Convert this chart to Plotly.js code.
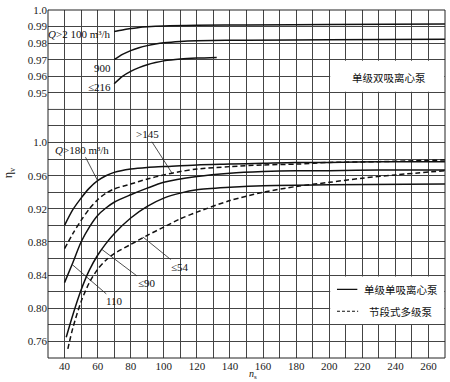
<!DOCTYPE html>
<html><head><meta charset="utf-8">
<script src="https://cdn.plot.ly/plotly-3.0.1.min.js"></script>
<style>html,body{margin:0;padding:0;background:#fff}</style>
</head><body><div id="chart" style="width:450px;height:382px"></div>
<script>
// ---- Top panel: 单级双吸离心泵 ----
const nsQ2100 = [70,75,80,85,90,100,120,150,200,270];
const etaQ2100 = [0.9870,0.9880,0.9888,0.9895,0.9899,0.9904,0.9908,0.9910,0.9912,0.9915];
const nsQ900 = [70,75,80,85,90,95,100,110,120,150,200,270];
const etaQ900 = [0.9700,0.9732,0.9755,0.9772,0.9785,0.9795,0.9802,0.9810,0.9814,0.9818,0.9820,0.9823];
const nsQ216 = [70,75,80,85,90,95,100,110,120,132];
const etaQ216 = [0.9555,0.9600,0.9630,0.9652,0.9670,0.9683,0.9693,0.9704,0.9710,0.9714];

// ---- Bottom panel ----
const nsQ180 = [40,45,50,55,60,65,70,80,90,100,120,140,160,180,200,230,270];
const etaQ180 = [0.900,0.919,0.933,0.945,0.954,0.960,0.964,0.968,0.970,0.971,0.973,0.974,0.975,0.976,0.976,0.977,0.977];
const nsQ145 = [40,45,50,55,60,65,70,80,90,100,110,120,140,160,180,200,230,270];
const etaQ145 = [0.872,0.890,0.906,0.920,0.931,0.939,0.944,0.950,0.956,0.961,0.965,0.968,0.971,0.973,0.974,0.976,0.977,0.979];
const nsQ110 = [40,45,50,55,60,65,70,80,90,100,120,140,160,180,200,230,270];
const etaQ110 = [0.831,0.855,0.880,0.898,0.912,0.921,0.928,0.937,0.945,0.952,0.959,0.963,0.965,0.966,0.966,0.967,0.967];
const nsQ90 = [41,45,50,55,60,65,70,80,90,100,110,120,140,160,200,270];
const etaQ90 = [0.765,0.792,0.822,0.846,0.864,0.878,0.890,0.909,0.923,0.933,0.939,0.943,0.946,0.948,0.949,0.950];
const nsQ54 = [42,45,50,55,60,65,70,80,90,100,110,120,140,160,180,200,220,240,270];
const etaQ54 = [0.751,0.776,0.808,0.831,0.847,0.858,0.866,0.877,0.888,0.898,0.908,0.916,0.930,0.940,0.947,0.952,0.957,0.961,0.966];

// ---- ticks ----
const xTickVals = [40,60,80,100,120,140,160,180,200,220,240,260];
const xTickText = ['40','60','80','100','120','140','160','180','200','220','240','260'];
const yTickVals = [0.76,0.80,0.84,0.88,0.92,0.96,1.00];
const yTickText = ['0.76','0.80','0.84','0.88','0.92','0.96','1.0'];
const y2TickVals = [0.95,0.96,0.97,0.98,0.99,1.00];
const y2TickText = ['0.95','0.96','0.97','0.98','0.99','1.0'];

const serif = 'Liberation Serif, Times New Roman, serif';
const cjk = 'Noto Sans CJK SC, sans-serif';
const ink = '#111';
const solid = {color: ink, width: 1.5, shape: 'spline', smoothing: 0.8};
const dashed = {color: ink, width: 1.5, shape: 'spline', smoothing: 0.8, dash: '5px,3px'};

const traces = [
  {x: nsQ2100, y: etaQ2100, xaxis: 'x', yaxis: 'y2', mode: 'lines', line: solid},
  {x: nsQ900, y: etaQ900, xaxis: 'x', yaxis: 'y2', mode: 'lines', line: solid},
  {x: nsQ216, y: etaQ216, xaxis: 'x', yaxis: 'y2', mode: 'lines', line: solid},
  {x: nsQ180, y: etaQ180, xaxis: 'x', yaxis: 'y', mode: 'lines', line: solid},
  {x: nsQ145, y: etaQ145, xaxis: 'x', yaxis: 'y', mode: 'lines', line: dashed},
  {x: nsQ110, y: etaQ110, xaxis: 'x', yaxis: 'y', mode: 'lines', line: solid},
  {x: nsQ90, y: etaQ90, xaxis: 'x', yaxis: 'y', mode: 'lines', line: solid},
  {x: nsQ54, y: etaQ54, xaxis: 'x', yaxis: 'y', mode: 'lines', line: dashed}
];

const grid = '#444';
const tickFont = {family: serif, size: 11, color: '#1a1a1a'};
const split = 15/21;

function lbl(text, x, y, ax, ay) {
  return {text: text, x: x, y: y, xref: 'x', yref: 'y', showarrow: true, arrowhead: 0,
    arrowwidth: 0.8, arrowcolor: '#222', ax: ax, ay: ay, standoff: 0,
    font: {family: serif, size: 11, color: ink}};
}
function topLbl(text, x, y) {
  return {text: text, x: x, y: y, xref: 'x', yref: 'y2', xanchor: 'right', yanchor: 'middle',
    showarrow: false, font: {family: serif, size: 11, color: ink}};
}

const layout = {
  width: 450, height: 382,
  margin: {l: 48, r: 5, t: 10, b: 24},
  paper_bgcolor: '#fff', plot_bgcolor: '#fff',
  showlegend: false,
  xaxis: {range: [30, 270], tickmode: 'array', tickvals: xTickVals, ticktext: xTickText, showgrid: true,
    gridcolor: grid, gridwidth: 1, showline: false, zeroline: false, ticks: '',
    minor: {tick0: 30, dtick: 10, showgrid: true, gridcolor: grid, gridwidth: 1, ticks: ''},
    tickfont: tickFont, anchor: 'y'},
  yaxis: {domain: [0, split], range: [0.74, 1.04], tickmode: 'array', tickvals: yTickVals, ticktext: yTickText,
    showgrid: true, gridcolor: grid, gridwidth: 1, showline: false, zeroline: false, ticks: '',
    minor: {tick0: 0.74, dtick: 0.02, showgrid: true, gridcolor: grid, gridwidth: 1, ticks: ''},
    tickfont: tickFont, anchor: 'x'},
  yaxis2: {domain: [split, 1], range: [0.94, 1.0], tickmode: 'array', tickvals: y2TickVals, ticktext: y2TickText,
    showgrid: true, gridcolor: grid, gridwidth: 1, showline: false, zeroline: false, ticks: '',
    minor: {tick0: 0.94, dtick: 0.01, showgrid: true, gridcolor: grid, gridwidth: 1, ticks: ''},
    tickfont: tickFont, anchor: 'x'},
  shapes: [
    {type: 'rect', xref: 'x', yref: 'y2', x0: 200.6, x1: 269.6, y0: 0.9506, y1: 0.9694,
      fillcolor: '#fff', line: {width: 0}, layer: 'above'},
    {type: 'rect', xref: 'x', yref: 'y', x0: 200.6, x1: 269.6, y0: 0.781, y1: 0.8385,
      fillcolor: '#fff', line: {width: 0}, layer: 'above'},
    {type: 'line', xref: 'x', yref: 'y', x0: 204.7, x1: 217, y0: 0.8228, y1: 0.8228,
      line: {color: ink, width: 1.2}, layer: 'above'},
    {type: 'line', xref: 'x', yref: 'y', x0: 204.7, x1: 217.5, y0: 0.7964, y1: 0.7964,
      line: {color: ink, width: 1.2, dash: '3px,2px'}, layer: 'above'},
    {type: 'line', xref: 'paper', yref: 'paper', x0: 0, x1: 1, y0: split, y1: split,
      line: {color: grid, width: 1}, layer: 'below'},
    {type: 'rect', xref: 'paper', yref: 'paper', x0: 0, x1: 1, y0: 0, y1: 1,
      line: {color: '#222', width: 1}, fillcolor: 'rgba(0,0,0,0)', layer: 'above'}
  ],
  annotations: [
    topLbl('<i>Q</i>&gt;2 100 m³/h', 69.3, 0.9855),
    topLbl('900', 69.3, 0.9650),
    topLbl('≤216', 69.3, 0.9535),
    {text: '单级双吸离心泵', x: 236, y: 0.9590, xref: 'x', yref: 'y2', showarrow: false,
      font: {family: cjk, size: 10.5, color: ink}},
    lbl('<i>Q</i>&gt;180 m³/h', 60, 0.954, -16, -31),
    lbl('&gt;145', 105, 0.963, -25, -39),
    lbl('110', 44.5, 0.853, 43, 37),
    lbl('≤90', 62.6, 0.871, 45, 34),
    lbl('≤54', 87.4, 0.886, 37, 30),
    {text: '单级单吸离心泵', x: 219.8, y: 0.8228, xref: 'x', yref: 'y', xanchor: 'left',
      showarrow: false, font: {family: cjk, size: 10.5, color: ink}},
    {text: '节段式多级泵', x: 222.9, y: 0.7964, xref: 'x', yref: 'y', xanchor: 'left',
      showarrow: false, font: {family: cjk, size: 10.5, color: ink}},
    {text: 'η<sub>v</sub>', x: -0.096, y: 0.964, xref: 'paper', yref: 'y', textangle: -90,
      xanchor: 'center', yanchor: 'middle',
      showarrow: false, font: {family: serif, size: 12, color: ink}},
    {text: '<i>n</i><sub>s</sub>', x: 154, y: -0.048, xref: 'x', yref: 'paper', showarrow: false,
      xanchor: 'center', yanchor: 'middle',
      font: {family: serif, size: 10, color: ink}}
  ]
};

Plotly.newPlot('chart', traces, layout, {displayModeBar: false, staticPlot: true});
</script></body></html>
